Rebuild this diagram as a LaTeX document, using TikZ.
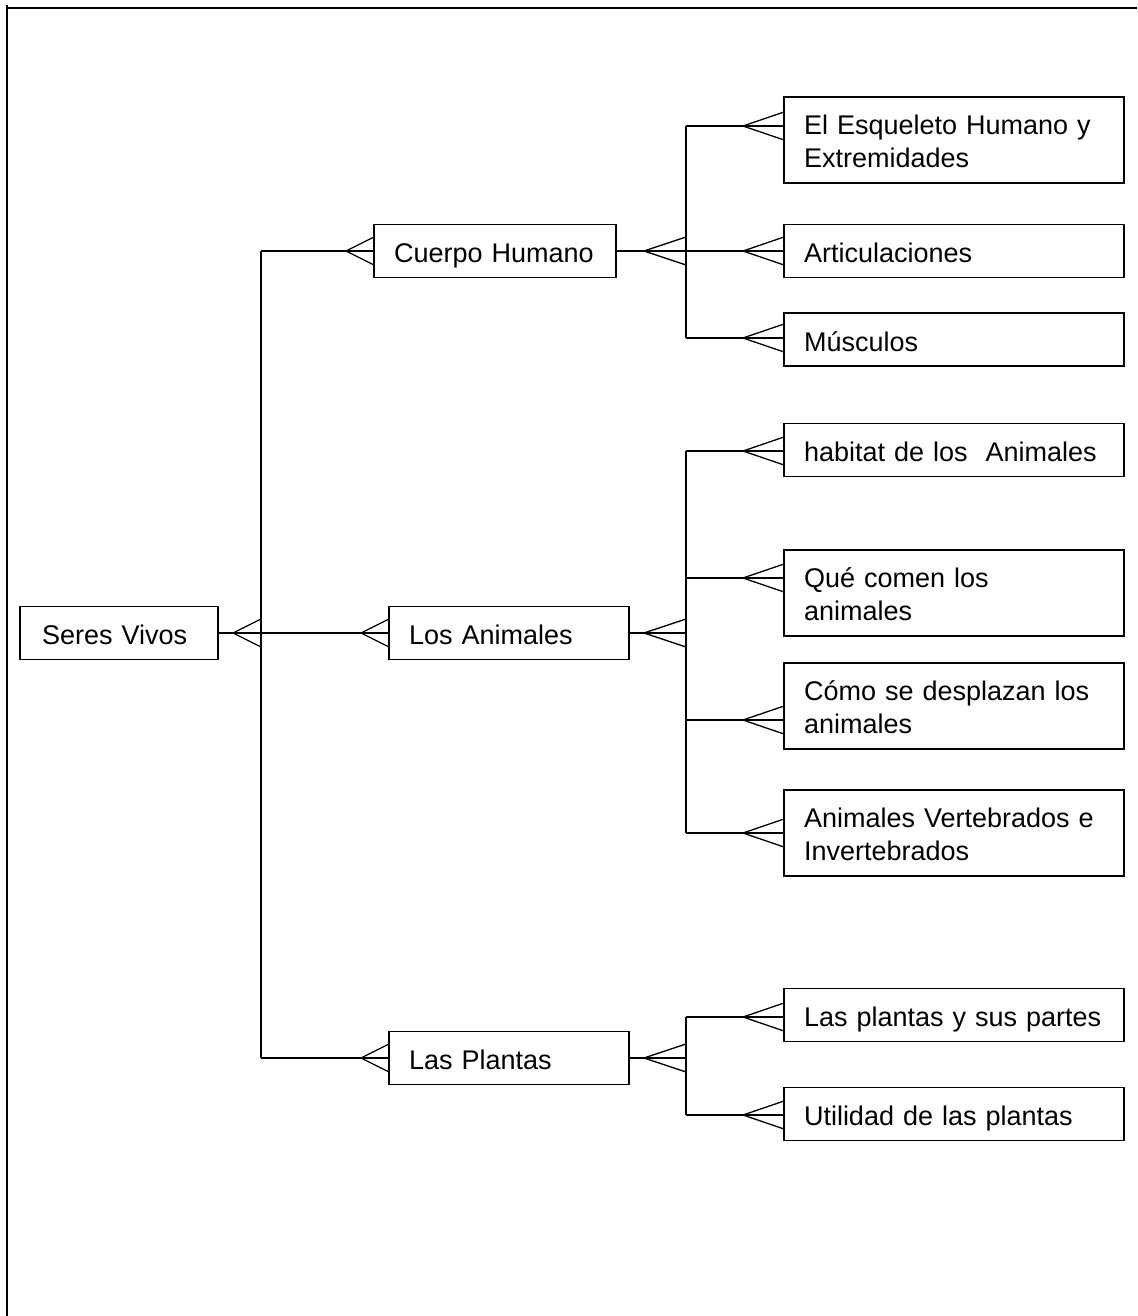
\documentclass[tikz,border=0pt]{standalone}
\usepackage{fontspec}
\setmainfont{Liberation Sans}
\newcommand\crowfoot[2]{\draw[conn] ([xshift=-#2]#1) -- ([yshift=14pt]#1) ([xshift=-#2]#1) -- ([yshift=-14pt]#1);}
\begin{document}
\begin{tikzpicture}[x=1pt,y=-1pt,
  box/.style={draw, line width=1.5pt, rectangle, align=left, inner xsep=20pt, inner ysep=0pt, outer sep=0pt,
    text width=300pt, minimum height=53pt, text height=23pt, font=\fontsize{27}{33}\selectfont, anchor=center},
  single/.style={text depth=0pt},
  double/.style={minimum height=86pt},
  conn/.style={line width=1.3pt},
  frameline/.style={line width=2pt}]
\useasboundingbox (0,0) rectangle (1137,1316);
\draw[frameline] (6,8) -- (1137,8);
\draw[frameline] (7,5) -- (7,1316);

% level 0 and 1
\node[box, single, inner xsep=22pt, text width=154pt] (sv) at (119,633) {Seres Vivos};
\node[box, single, text width=202pt] (ch) at (495,251) {Cuerpo Humano};
\node[box, single, text width=200pt] (la) at (509,633) {Los Animales};
\node[box, single, text width=200pt] (lp) at (509,1058) {Las Plantas};

% level 2
\node[box, double] (esq) at (954,140) {El Esqueleto Humano y\\Extremidades};
\node[box, single] (art) at (954,251) {Articulaciones};
\node[box, single] (mus) at (954,339.5) {Músculos};
\node[box, single] (hab) at (954,450) {habitat de los\ \ Animales};
\node[box, double] (que) at (954,593) {Qué comen los\\animales};
\node[box, double] (como) at (954,706) {Cómo se desplazan los\\animales};
\node[box, double] (vert) at (954,833) {Animales Vertebrados e\\Invertebrados};
\node[box, single] (partes) at (954,1015) {Las plantas y sus partes};
\node[box, single] (util) at (954,1114) {Utilidad de las plantas};

% main trunk
\coordinate (mA) at (261,251);
\coordinate (mM) at (261,633);
\coordinate (mB) at (261,1058);
\draw[conn] (mA) -- (mB);
\draw[conn] (sv.east) -- (la.west);
\crowfoot{mM}{28pt}
\crowfoot{la.west}{28pt}
\draw[conn] (mA) -- (ch.west);
\crowfoot{ch.west}{28pt}
\draw[conn] (mB) -- (lp.west);
\crowfoot{lp.west}{28pt}

% Cuerpo Humano trunk
\coordinate (cA) at (686,126);
\coordinate (cM) at (686,251);
\coordinate (cB) at (686,338);
\coordinate (esqIn) at (esq.west |- cA);
\coordinate (musIn) at (mus.west |- cB);
\draw[conn] (cA) -- (cB);
\draw[conn] (ch.east) -- (art.west);
\crowfoot{cM}{42pt}
\crowfoot{art.west}{41pt}
\draw[conn] (cA) -- (esqIn);
\crowfoot{esqIn}{41pt}
\draw[conn] (cB) -- (musIn);
\crowfoot{musIn}{41pt}

% Los Animales trunk
\coordinate (aA) at (686,451);
\coordinate (aQ) at (686,578);
\coordinate (aM) at (686,633);
\coordinate (aC) at (686,720);
\coordinate (aB) at (686,833);
\coordinate (habIn) at (hab.west |- aA);
\coordinate (queIn) at (que.west |- aQ);
\coordinate (comoIn) at (como.west |- aC);
\draw[conn] (aA) -- (aB);
\draw[conn] (la.east) -- (aM);
\crowfoot{aM}{42pt}
\draw[conn] (aA) -- (habIn);
\crowfoot{habIn}{41pt}
\draw[conn] (aQ) -- (queIn);
\crowfoot{queIn}{41pt}
\draw[conn] (aC) -- (comoIn);
\crowfoot{comoIn}{41pt}
\draw[conn] (aB) -- (vert.west);
\crowfoot{vert.west}{41pt}

% Las Plantas trunk
\coordinate (pA) at (686,1017);
\coordinate (pM) at (686,1058);
\coordinate (pB) at (686,1115);
\coordinate (partesIn) at (partes.west |- pA);
\coordinate (utilIn) at (util.west |- pB);
\draw[conn] (pA) -- (pB);
\draw[conn] (lp.east) -- (pM);
\crowfoot{pM}{42pt}
\draw[conn] (pA) -- (partesIn);
\crowfoot{partesIn}{41pt}
\draw[conn] (pB) -- (utilIn);
\crowfoot{utilIn}{41pt}
\end{tikzpicture}
\end{document}
